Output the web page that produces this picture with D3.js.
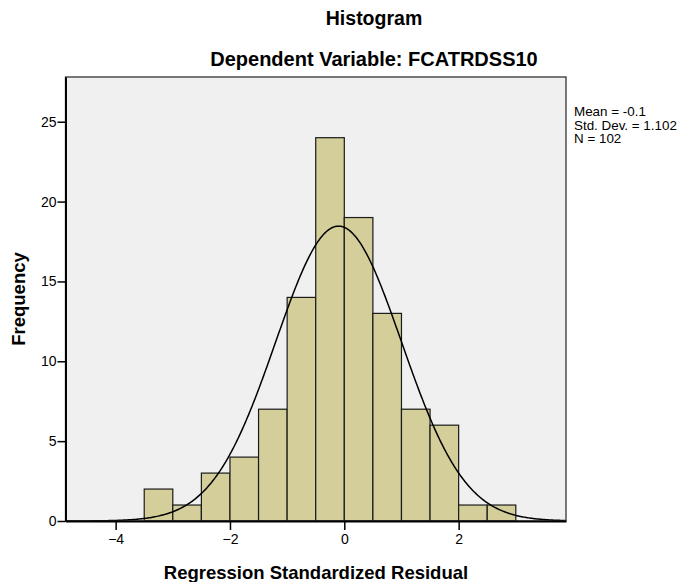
<!DOCTYPE html>
<html>
<head>
<meta charset="utf-8">
<script src="https://cdn.jsdelivr.net/npm/d3@7"></script>
<style>
  body { margin: 0; background: #fff; }
  svg { display: block; font-family: "Liberation Sans", Arial, sans-serif; }
</style>
</head>
<body>
<svg id="chart" width="679" height="582"></svg>
<script>
// Histogram bins of regression standardized residuals (bin width 0.5)
const binStarts = [-3.5, -3.0, -2.5, -2.0, -1.5, -1.0, -0.5, 0.0, 0.5, 1.0, 1.5, 2.0, 2.5];
const counts    = [2, 1, 3, 4, 7, 14, 24, 19, 13, 7, 6, 1, 1];
const binWidth = 0.5;
const xTicks = [-4, -2, 0, 2];
const yTicks = [0, 5, 10, 15, 20, 25];
const stats = { mean: -0.1, sd: 1.102, n: 102 };
const statLines = ["Mean = -0.1", "Std. Dev. = 1.102", "N = 102"];

const svg = d3.select("#chart");
const plotL = 65.5, plotR = 566, plotT = 77, plotB = 521;

const x = d3.scaleLinear().domain([-4.877, 3.878]).range([plotL, plotR]);
const y = d3.scaleLinear().domain([0, 27.8]).range([plotB, plotT]);

// plot background
svg.append("rect")
  .attr("x", plotL).attr("y", plotT)
  .attr("width", plotR - plotL).attr("height", plotB - plotT)
  .attr("fill", "#f0f0f0");

// bars
svg.append("g").selectAll("rect")
  .data(binStarts.map((s, i) => ({ s, c: counts[i] })))
  .join("rect")
  .attr("x", d => x(d.s))
  .attr("y", d => y(d.c))
  .attr("width", d => x(d.s + binWidth) - x(d.s))
  .attr("height", d => y(0) - y(d.c))
  .attr("fill", "#d3ce9a")
  .attr("stroke", "#1a1a1a")
  .attr("stroke-width", 1.2);

// fitted normal curve scaled to counts
const scale = stats.n * binWidth / (stats.sd * Math.sqrt(2 * Math.PI));
const curve = d3.range(x.domain()[0], x.domain()[1] + 0.001, 0.02).map(v => [
  v, scale * Math.exp(-0.5 * Math.pow((v - stats.mean) / stats.sd, 2))
]);
svg.append("path")
  .datum(curve)
  .attr("fill", "none")
  .attr("stroke", "#000")
  .attr("stroke-width", 1.5)
  .attr("d", d3.line().x(d => x(d[0])).y(d => y(d[1])));

// plot frame
svg.append("rect")
  .attr("x", plotL).attr("y", plotT)
  .attr("width", plotR - plotL).attr("height", plotB - plotT)
  .attr("fill", "none")
  .attr("stroke", "#333")
  .attr("stroke-width", 1.3);

// axes
const xAxis = svg.append("g")
  .attr("transform", `translate(0,${plotB})`)
  .call(d3.axisBottom(x).tickValues(xTicks).tickSize(9).tickSizeOuter(0).tickPadding(4).tickFormat(d3.format("d")));
const yAxis = svg.append("g")
  .attr("transform", `translate(${plotL},0)`)
  .call(d3.axisLeft(y).tickValues(yTicks).tickSize(8).tickSizeOuter(0).tickPadding(1).tickFormat(d3.format("d")));
[xAxis, yAxis].forEach(g => {
  g.select(".domain").attr("stroke", "#000").attr("stroke-width", 2);
  g.selectAll(".tick line").attr("stroke", "#000").attr("stroke-width", 1.5);
  g.selectAll(".tick text")
    .attr("fill", "#000")
    .attr("font-size", 14)
    .attr("font-family", "'Liberation Sans', Arial, sans-serif");
});

// titles
svg.append("text")
  .attr("x", 374).attr("y", 25)
  .attr("text-anchor", "middle")
  .attr("font-size", 19.5).attr("font-weight", "bold")
  .text("Histogram");
svg.append("text")
  .attr("x", 374).attr("y", 66)
  .attr("text-anchor", "middle")
  .attr("font-size", 20).attr("font-weight", "bold")
  .text("Dependent Variable: FCATRDSS10");

// axis titles
svg.append("text")
  .attr("x", 316).attr("y", 579)
  .attr("text-anchor", "middle")
  .attr("font-size", 18.5).attr("font-weight", "bold")
  .text("Regression Standardized Residual");
svg.append("text")
  .attr("transform", "translate(25,299) rotate(-90)")
  .attr("text-anchor", "middle")
  .attr("font-size", 18.5).attr("font-weight", "bold")
  .text("Frequency");

// summary statistics
svg.append("g").selectAll("text")
  .data(statLines)
  .join("text")
  .attr("x", 574)
  .attr("y", (d, i) => 116 + i * 13.5)
  .attr("font-size", 13.4)
  .text(d => d);
</script>
</body>
</html>
